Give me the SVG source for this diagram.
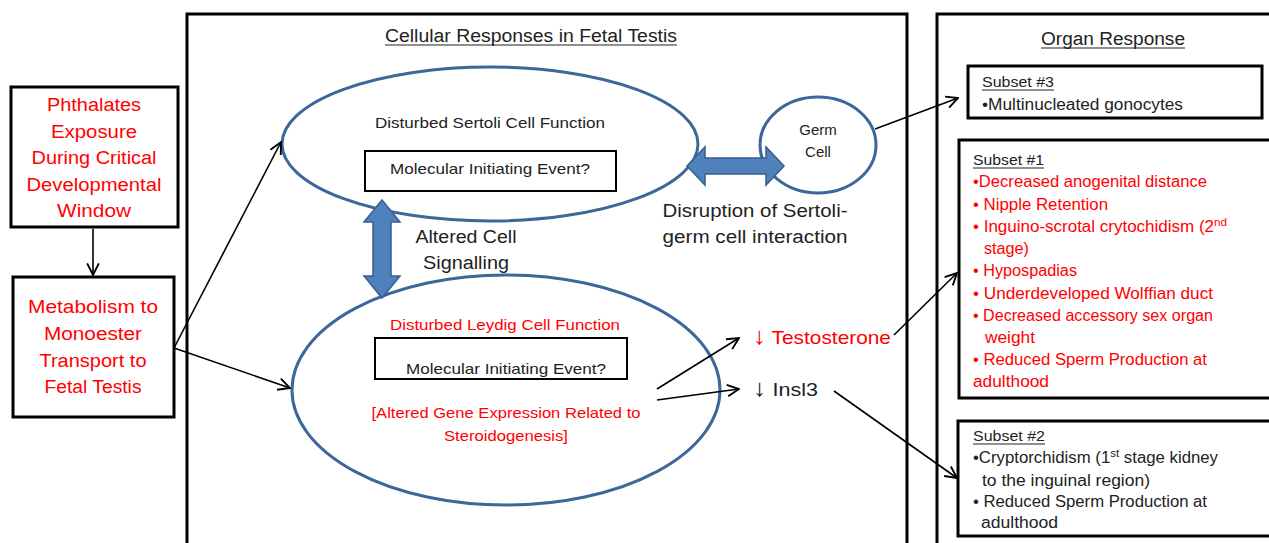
<svg xmlns="http://www.w3.org/2000/svg" width="1269" height="543" viewBox="0 0 1269 543">
<style>
  text { font-family: "Liberation Sans", Arial, sans-serif; }
  .box { fill: #fff; stroke: #000; stroke-width: 3; }
  .thin { fill: #fff; stroke: #000; stroke-width: 2; }
  .ell { fill: #fff; stroke: #3c679a; stroke-width: 3; }
  .dbl { fill: #4f81bd; stroke: #385d8a; stroke-width: 1.5; }
  .red { fill: #ff0000; }
  .blk { fill: #222; }
  .c { text-anchor: middle; }
  .ln { stroke: #000; stroke-width: 1.6; fill: none; marker-end: url(#ah); }
</style>
<defs>
  <marker id="ah" viewBox="0 0 12 12" refX="11" refY="6" markerWidth="14" markerHeight="14" markerUnits="userSpaceOnUse" orient="auto">
    <path d="M1,1 L11,6 L1,11" fill="none" stroke="#000" stroke-width="1.6"/>
  </marker>
</defs>
<rect width="1269" height="543" fill="#fff"/>

<g id="panel-cellular">
  <rect class="box" x="187" y="14" width="720" height="540"/>
  <text x="531" y="42" class="c blk" font-size="18" textLength="292" lengthAdjust="spacingAndGlyphs">Cellular Responses in Fetal Testis</text>
  <line x1="385" y1="45" x2="677" y2="45" stroke="#222" stroke-width="1.2"/>
</g>

<g id="panel-organ">
  <rect class="box" x="937" y="14" width="340" height="540"/>
  <text x="1113" y="45" class="c blk" font-size="18" textLength="144" lengthAdjust="spacingAndGlyphs">Organ Response</text>
  <line x1="1041" y1="48" x2="1185" y2="48" stroke="#222" stroke-width="1.2"/>
</g>

<g id="node-phthalates">
  <rect class="box" x="11" y="87" width="167" height="140"/>
  <g class="red c" font-size="18">
    <text x="94" y="111" textLength="94" lengthAdjust="spacingAndGlyphs">Phthalates</text>
    <text x="94" y="138" textLength="86" lengthAdjust="spacingAndGlyphs">Exposure</text>
    <text x="94" y="164" textLength="125" lengthAdjust="spacingAndGlyphs">During Critical</text>
    <text x="94" y="191" textLength="135" lengthAdjust="spacingAndGlyphs">Developmental</text>
    <text x="94" y="217" textLength="74" lengthAdjust="spacingAndGlyphs">Window</text>
  </g>
</g>

<g id="node-metabolism">
  <rect class="box" x="13" y="277" width="161" height="140"/>
  <g class="red c" font-size="18">
    <text x="93" y="313" textLength="130" lengthAdjust="spacingAndGlyphs">Metabolism to</text>
    <text x="93" y="340" textLength="98" lengthAdjust="spacingAndGlyphs">Monoester</text>
    <text x="93" y="367" textLength="107" lengthAdjust="spacingAndGlyphs">Transport to</text>
    <text x="93" y="393" textLength="97" lengthAdjust="spacingAndGlyphs">Fetal Testis</text>
  </g>
</g>

<g id="node-sertoli">
  <ellipse class="ell" cx="490" cy="144" rx="208" ry="77"/>
  <text x="490" y="128" class="c blk" font-size="15" textLength="230" lengthAdjust="spacingAndGlyphs">Disturbed  Sertoli Cell Function</text>
  <rect class="thin" x="365" y="151" width="251" height="40"/>
  <text x="490" y="174" class="c blk" font-size="14.5" textLength="200" lengthAdjust="spacingAndGlyphs">Molecular Initiating Event?</text>
</g>

<g id="node-germ">
  <ellipse class="ell" cx="818" cy="145" rx="58" ry="48"/>
  <text x="818" y="135" class="c blk" font-size="15">Germ</text>
  <text x="818" y="157" class="c blk" font-size="15">Cell</text>
</g>

<g id="node-leydig">
  <ellipse class="ell" cx="506" cy="390" rx="214" ry="115"/>
  <text x="505" y="330" class="c red" font-size="15" textLength="230" lengthAdjust="spacingAndGlyphs">Disturbed  Leydig Cell Function</text>
  <rect class="thin" x="375" y="338" width="252" height="41"/>
  <text x="506" y="374" class="c blk" font-size="14.5" textLength="200" lengthAdjust="spacingAndGlyphs">Molecular Initiating Event?</text>
  <text x="506" y="418" class="c red" font-size="15" textLength="269" lengthAdjust="spacingAndGlyphs">[Altered Gene Expression Related to</text>
  <text x="506" y="441" class="c red" font-size="15" textLength="124" lengthAdjust="spacingAndGlyphs">Steroidogenesis]</text>
</g>

<g id="label-signalling">
  <text x="466" y="243" class="c blk" font-size="18" textLength="101" lengthAdjust="spacingAndGlyphs">Altered Cell</text>
  <text x="466" y="269" class="c blk" font-size="18" textLength="86" lengthAdjust="spacingAndGlyphs">Signalling</text>
</g>

<g id="label-disruption">
  <text x="755" y="217" class="c blk" font-size="18" textLength="185" lengthAdjust="spacingAndGlyphs">Disruption of Sertoli-</text>
  <text x="755" y="243" class="c blk" font-size="18" textLength="185" lengthAdjust="spacingAndGlyphs">germ cell interaction</text>
</g>

<g id="node-testosterone">
  <text x="753" y="344" class="red" font-size="19" textLength="138" lengthAdjust="spacingAndGlyphs"><tspan font-size="24">↓</tspan> Testosterone</text>
</g>
<g id="node-insl3">
  <text x="753" y="396" class="blk" font-size="19" textLength="65" lengthAdjust="spacingAndGlyphs"><tspan font-size="24">↓</tspan> Insl3</text>
</g>

<g id="node-subset3">
  <rect class="box" x="968" y="66" width="294" height="52"/>
  <text x="982" y="87" class="blk" font-size="15" textLength="72" lengthAdjust="spacingAndGlyphs">Subset #3</text>
  <line x1="982" y1="90" x2="1054" y2="90" stroke="#222" stroke-width="1"/>
  <text x="982" y="110" class="blk" font-size="16" textLength="201" lengthAdjust="spacingAndGlyphs">•Multinucleated gonocytes</text>
</g>

<g id="node-subset1">
  <rect class="box" x="959" y="140" width="315" height="258"/>
  <text x="973" y="165" class="blk" font-size="15" textLength="71" lengthAdjust="spacingAndGlyphs">Subset #1</text>
  <line x1="973" y1="168" x2="1044" y2="168" stroke="#222" stroke-width="1"/>
  <g class="red" font-size="16">
    <text x="973" y="187" textLength="234" lengthAdjust="spacingAndGlyphs">•Decreased anogenital distance</text>
    <text x="973" y="210" textLength="135" lengthAdjust="spacingAndGlyphs">• Nipple Retention</text>
    <text x="973" y="232" textLength="254" lengthAdjust="spacingAndGlyphs">• Inguino-scrotal crytochidism (2<tspan font-size="11" dy="-6">nd</tspan></text>
    <text x="984" y="254" textLength="45" lengthAdjust="spacingAndGlyphs">stage)</text>
    <text x="973" y="276" textLength="104" lengthAdjust="spacingAndGlyphs">• Hypospadias</text>
    <text x="973" y="299" textLength="240" lengthAdjust="spacingAndGlyphs">• Underdeveloped Wolffian duct</text>
    <text x="973" y="321" textLength="240" lengthAdjust="spacingAndGlyphs">• Decreased accessory sex organ</text>
    <text x="985" y="343" textLength="50" lengthAdjust="spacingAndGlyphs">weight</text>
    <text x="973" y="365" textLength="234" lengthAdjust="spacingAndGlyphs">• Reduced Sperm Production at</text>
    <text x="973" y="387" textLength="76" lengthAdjust="spacingAndGlyphs">adulthood</text>
  </g>
</g>

<g id="node-subset2">
  <rect class="box" x="958" y="421" width="316" height="115"/>
  <text x="973" y="441" class="blk" font-size="15" textLength="72" lengthAdjust="spacingAndGlyphs">Subset #2</text>
  <line x1="973" y1="444" x2="1045" y2="444" stroke="#222" stroke-width="1"/>
  <g class="blk" font-size="16">
    <text x="973" y="463" textLength="245" lengthAdjust="spacingAndGlyphs">•Cryptorchidism (1<tspan font-size="11" dy="-6">st</tspan><tspan dy="6"> stage kidney</tspan></text>
    <text x="982" y="486" textLength="168" lengthAdjust="spacingAndGlyphs">to the inguinal region)</text>
    <text x="973" y="507" textLength="234" lengthAdjust="spacingAndGlyphs">• Reduced Sperm Production at</text>
    <text x="981" y="528" textLength="77" lengthAdjust="spacingAndGlyphs">adulthood</text>
  </g>
</g>

<g id="connectors">
  <line class="ln" x1="93" y1="229" x2="93" y2="275"/>
  <line class="ln" x1="174" y1="348" x2="281" y2="142"/>
  <line class="ln" x1="174" y1="348" x2="290" y2="388"/>
  <line class="ln" x1="657" y1="389" x2="739" y2="338"/>
  <line class="ln" x1="657" y1="400" x2="739" y2="389"/>
  <line class="ln" x1="894" y1="335" x2="957" y2="273"/>
  <line class="ln" x1="834" y1="391" x2="957" y2="478"/>
  <line class="ln" x1="875" y1="129" x2="958" y2="98"/>
  <polygon class="dbl" points="687,166 705,147 705,158 766,158 766,147 784,166 766,185 766,174 705,174 705,185"/>
  <polygon class="dbl" points="382,200 400,222 391,222 391,276 400,276 382,298 364,276 373,276 373,222 364,222"/>
</g>
</svg>
